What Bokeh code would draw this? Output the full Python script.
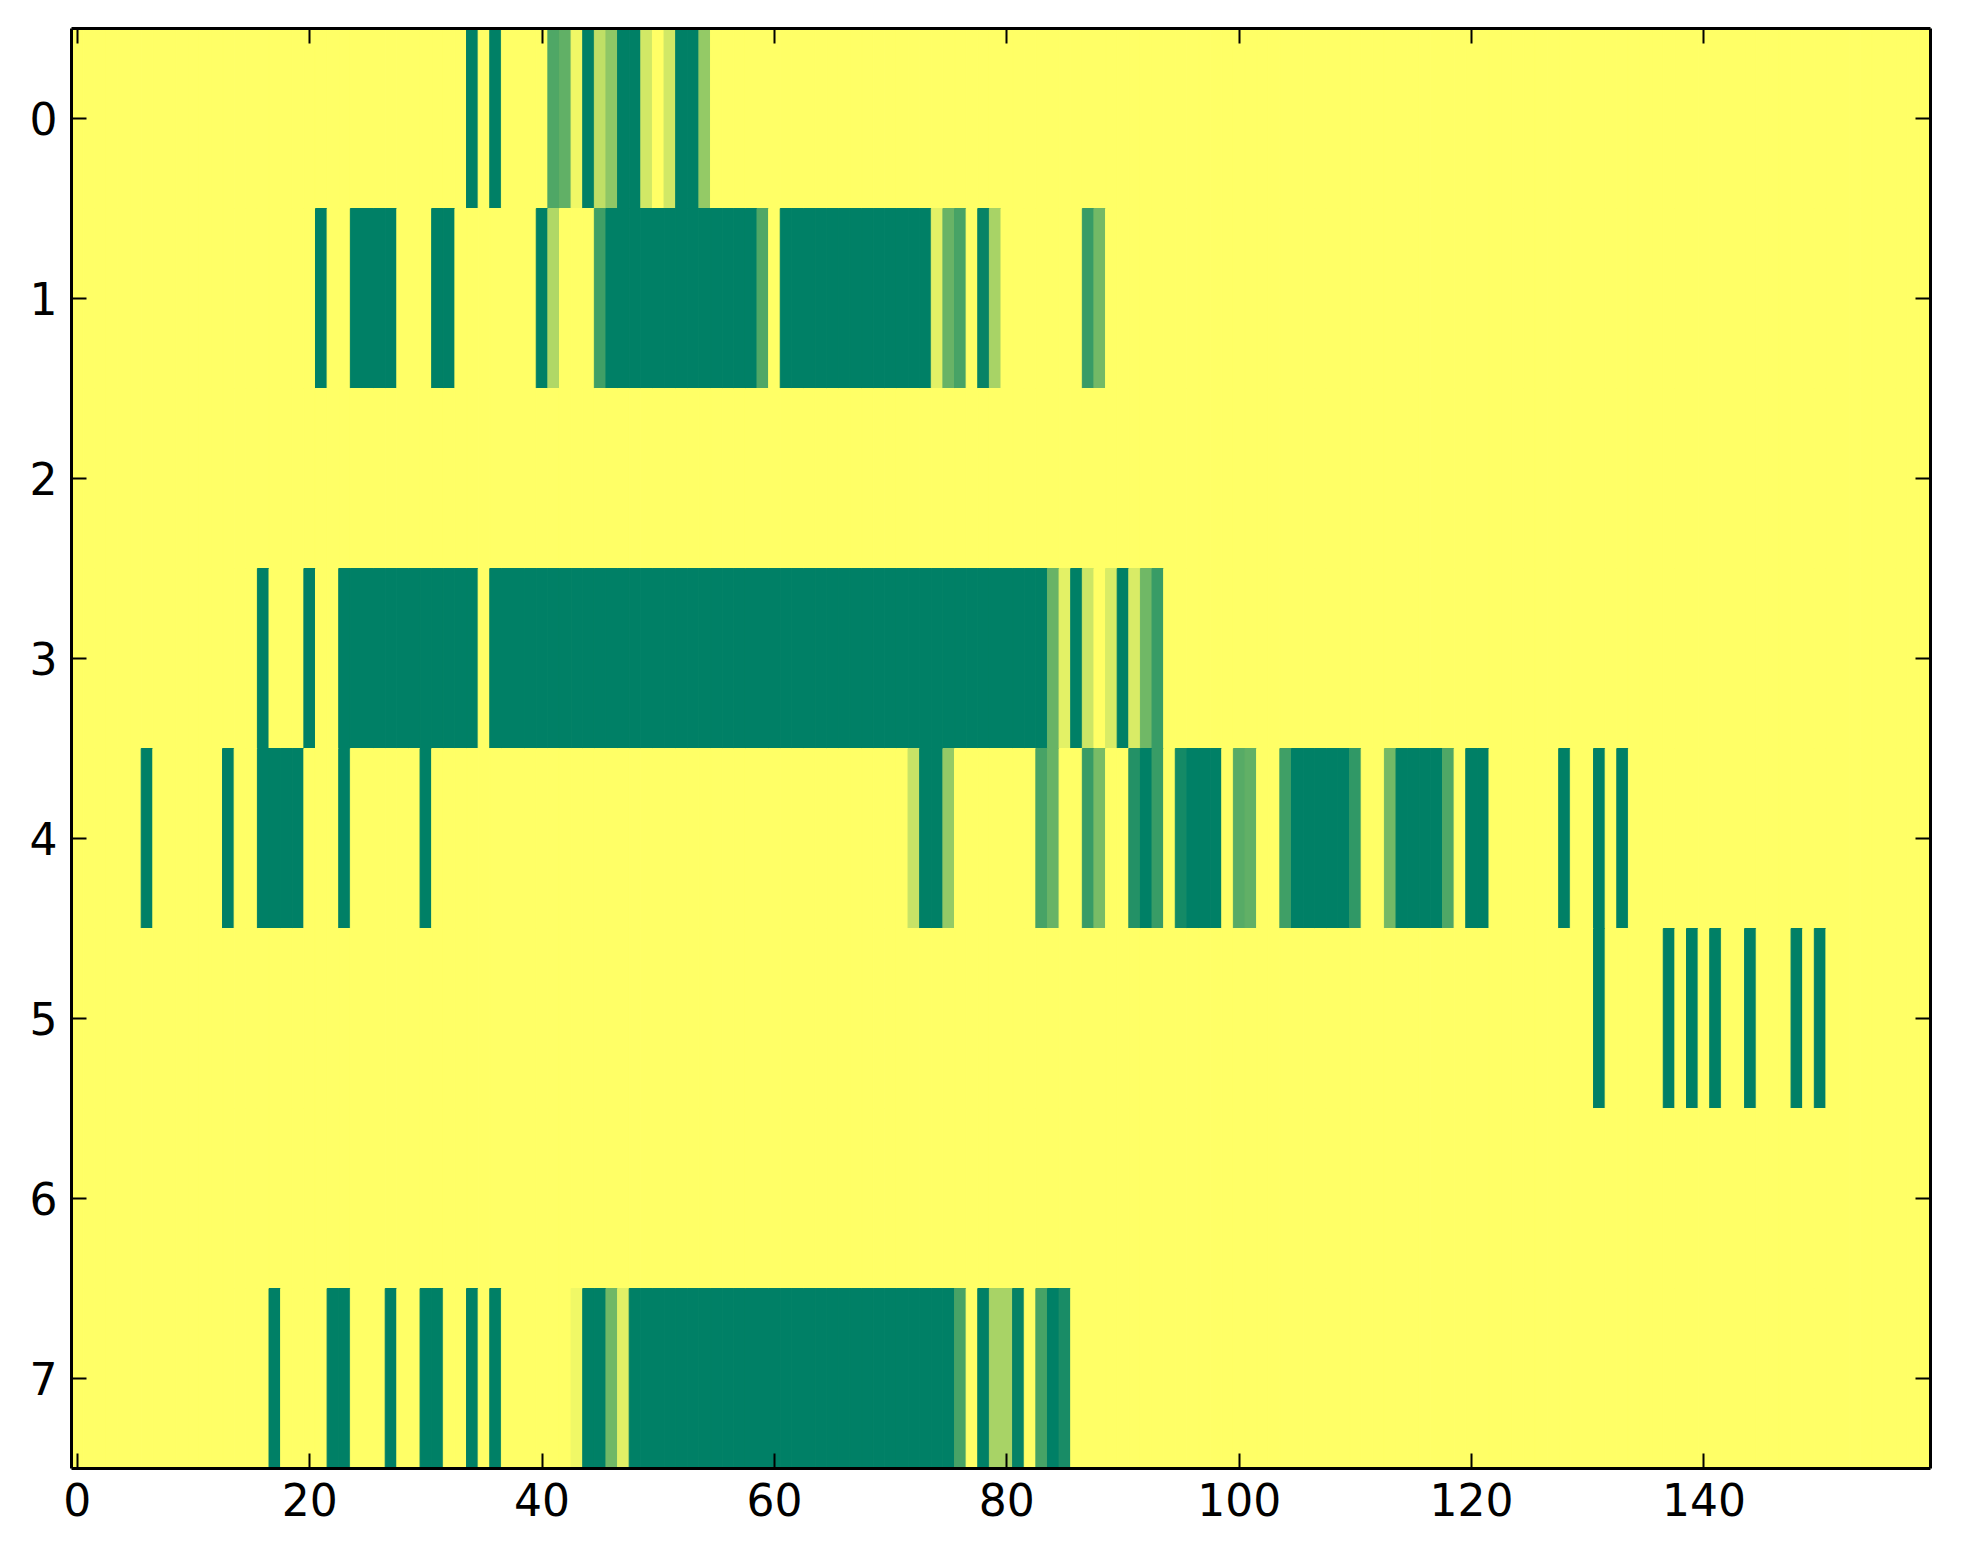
from bokeh.plotting import figure
from bokeh.models import Range1d, FixedTicker, LinearAxis, LinearColorMapper, ColumnDataSource
from bokeh.transform import transform
from bokeh.embed import file_html
from bokeh.resources import INLINE

# ---------------- data ----------------
n_rows = 8
n_cols = 160
x_ticks = [0, 20, 40, 60, 80, 100, 120, 140]
y_ticks = [0, 1, 2, 3, 4, 5, 6, 7]

# runs per row: (first column, last column, value in 0..1); all other cells are 0
row_0 = [(34, 34, 1.0), (36, 36, 1.0), (41, 41, 0.69), (42, 42, 0.62), (43, 43, 0.06),
         (44, 44, 1.0), (45, 45, 0.25), (46, 46, 0.44), (47, 48, 1.0), (49, 49, 0.18),
         (51, 51, 0.18), (52, 53, 1.0), (54, 54, 0.42)]
row_1 = [(21, 21, 1.0), (24, 27, 1.0), (31, 32, 1.0), (40, 40, 1.0), (41, 41, 0.31),
         (45, 45, 0.75), (46, 58, 1.0), (59, 59, 0.69), (61, 73, 1.0), (74, 74, 0.11),
         (75, 75, 0.59), (76, 76, 0.72), (78, 78, 0.97), (79, 79, 0.34), (87, 87, 0.78),
         (88, 88, 0.55)]
row_2 = []
row_3 = [(16, 16, 1.0), (20, 20, 1.0), (23, 34, 1.0), (36, 83, 1.0), (84, 84, 0.59),
         (85, 85, 0.11), (86, 86, 1.0), (87, 87, 0.2), (89, 89, 0.15), (90, 90, 1.0),
         (91, 91, 0.15), (92, 92, 0.56), (93, 93, 0.78)]
row_4 = [(6, 6, 1.0), (13, 13, 1.0), (16, 19, 1.0), (23, 23, 1.0), (30, 30, 1.0),
         (72, 72, 0.22), (73, 74, 1.0), (75, 75, 0.42), (83, 83, 0.72), (84, 84, 0.59),
         (87, 87, 0.78), (88, 88, 0.53), (91, 91, 0.86), (92, 92, 1.0), (93, 93, 0.78),
         (95, 95, 0.92), (96, 98, 1.0), (100, 100, 0.66), (101, 101, 0.62), (104, 104, 0.75),
         (105, 109, 1.0), (110, 110, 0.81), (113, 113, 0.55), (114, 117, 1.0), (118, 118, 0.69),
         (120, 121, 1.0), (128, 128, 1.0), (131, 131, 1.0), (133, 133, 1.0)]
row_5 = [(131, 131, 1.0), (137, 137, 1.0), (139, 139, 1.0), (141, 141, 1.0), (144, 144, 1.0),
         (148, 148, 1.0), (150, 150, 1.0)]
row_6 = []
row_7 = [(17, 17, 1.0), (22, 23, 1.0), (27, 27, 1.0), (30, 31, 1.0), (34, 34, 1.0),
         (36, 36, 1.0), (43, 43, 0.06), (44, 45, 1.0), (46, 46, 0.56), (47, 47, 0.12),
         (48, 75, 1.0), (76, 76, 0.72), (78, 78, 1.0), (79, 80, 0.34), (81, 81, 0.98),
         (83, 83, 0.72), (84, 84, 1.0), (85, 85, 0.9)]

all_rows = [row_0, row_1, row_2, row_3, row_4, row_5, row_6, row_7]

# ---------------- build cells ----------------
xs, ys, vs = [], [], []
for r, runs in enumerate(all_rows):
    vals = [0.0] * n_cols
    for a, b, v in runs:
        for c in range(a, b + 1):
            vals[c] = v
    for c in range(n_cols):
        xs.append(c)
        ys.append(r)
        vs.append(vals[c])

src = ColumnDataSource(dict(x=xs, y=ys, v=vs))

# summer_r colormap
palette = []
for i in range(256):
    t = 1.0 - i / 255.0
    rr, gg, bb = t, 0.5 + 0.5 * t, 0.4
    palette.append("#%02x%02x%02x" % (round(rr * 255), round(gg * 255), round(bb * 255)))
mapper = LinearColorMapper(palette=palette, low=0.0, high=1.0)

# ---------------- figure ----------------
p = figure(frame_width=1859, frame_height=1440,
           x_range=Range1d(-0.5, n_cols - 0.5), y_range=Range1d(n_rows - 0.5, -0.5),
           output_backend="svg", toolbar_location=None,
           min_border_left=71, min_border_top=28, min_border_right=16, min_border_bottom=72)
p.background_fill_color = "white"
p.border_fill_color = "white"
p.grid.visible = False
p.outline_line_color = None

p.rect(x="x", y="y", width=1, height=1, source=src,
       fill_color=transform("v", mapper), line_color=transform("v", mapper), line_width=1)


def style(ax, ticks, labels=True):
    ax.ticker = FixedTicker(ticks=ticks)
    ax.axis_line_color = "black"
    ax.axis_line_width = 3
    ax.major_tick_in = 15
    ax.major_tick_out = 0
    ax.major_tick_line_width = 2
    ax.major_tick_line_color = "black"
    ax.minor_tick_line_color = None
    ax.major_label_text_font = "DejaVu Sans"
    ax.major_label_text_font_size = "44px"
    ax.major_label_text_color = "black" if labels else None
    ax.major_label_standoff = 14


for ax in p.xaxis:
    style(ax, x_ticks)
for ax in p.yaxis:
    style(ax, y_ticks)

top = LinearAxis()
style(top, x_ticks, labels=False)
p.add_layout(top, "above")
right = LinearAxis()
style(right, y_ticks, labels=False)
p.add_layout(right, "right")

open("out.html", "w").write(file_html(p, INLINE))
